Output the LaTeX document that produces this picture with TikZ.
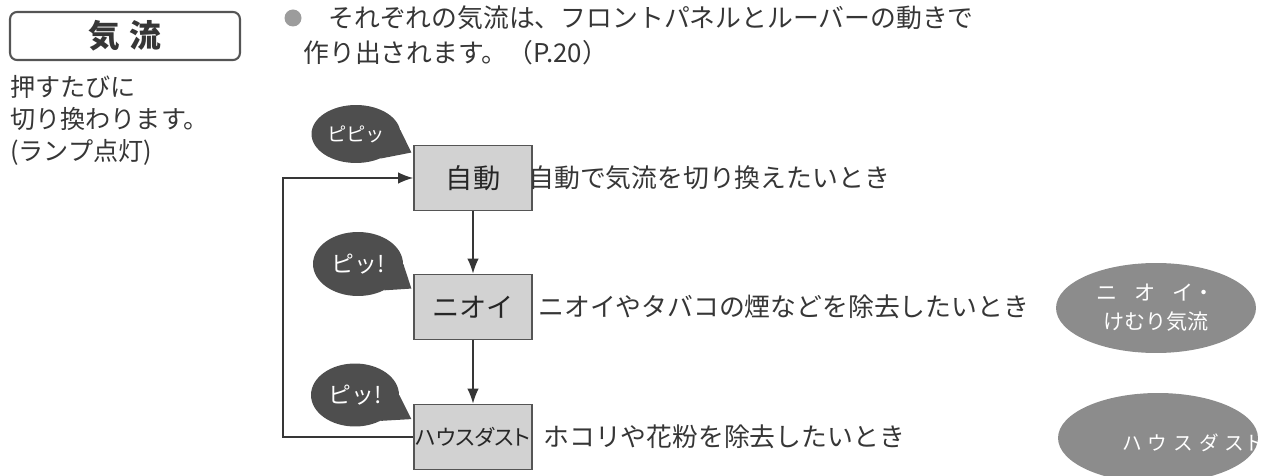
\documentclass[tikz,border=0pt]{standalone}
\usepackage{fontspec}
\setmainfont{Noto Sans CJK JP}
\newfontfamily\palt{Noto Sans CJK JP}[RawFeature=+palt]
\usetikzlibrary{arrows.meta}
\usetikzlibrary{positioning}
\usetikzlibrary{shapes}

\definecolor{txtgray}{HTML}{363636}
\definecolor{boxfill}{HTML}{D2D2D2}
\definecolor{boxline}{HTML}{555555}
\definecolor{beepgray}{HTML}{4E4E4E}
\definecolor{ovalgray}{HTML}{8C8C8C}
\definecolor{dotgray}{HTML}{9C9C9C}

\tikzset{
    titlebox/.style={draw=boxline, line width=1.2pt, rounded corners=4pt, minimum width=4.6cm, minimum height=0.96cm, inner sep=0pt, text=txtgray, font=\fontsize{18}{18}\selectfont\bfseries},
    modebox/.style={draw=boxline, fill=boxfill, line width=1pt, minimum width=2.36cm, minimum height=1.3cm, inner sep=0pt, text=black!85, font=\fontsize{15.5}{15.5}\selectfont},
    desc/.style={anchor=west, inner sep=0pt, text=txtgray, font=\fontsize{14.7}{14.7}\selectfont},
    flowline/.style={draw=txtgray, line width=0.8pt},
    beep/.style={ellipse, fill=beepgray, inner sep=0pt, text=white},
    oval/.style={ellipse, fill=ovalgray, inner sep=0pt, minimum width=4.0cm, minimum height=1.8cm, text=white, font=\fontsize{12}{16.5}\selectfont}
}

\begin{document}
\begin{tikzpicture}[x=0.02cm, y=-0.02cm, >={Latex[length=8.5pt, width=6.5pt]}]

    \clip (0,0) rectangle (1268,476);

    % Draw button and note
    \node [titlebox] (title) at (125,36) {気\hspace{0.3em}流};
    \node [desc, align=left, font=\fontsize{14.3}{18.2}\selectfont] (press) at (10,120) {押すたびに\\切り換わります。\\(ランプ点灯)};

    % Draw header
    \fill [dotgray] (293,18) circle [radius=8.5];
    \node [desc] (head1) at (328,18) {それぞれの気流は、フロントパネルとルーバーの動きで};
    \node [desc] (head2) at (303,53) {作り出されます。（P.20）};

    % Draw mode boxes
    \node [modebox] (auto) at (473,178) {自動};
    \node [modebox] (nioi) at (473,307) {ニオイ};
    \node [modebox, font=\fontsize{12.3}{12.3}\palt] (dust) at (473,437) {ハウスダスト};

    % Draw descriptions
    \node [desc] (autotxt) at (528,178) {自動で気流を切り換えたいとき};
    \node [desc] (nioitxt) at (538,307) {ニオイやタバコの煙などを除去したいとき};
    \node [desc] (dusttxt) at (543,437) {ホコリや花粉を除去したいとき};

    % Draw arrows
    \coordinate (back) at (283,437);
    \draw [->, flowline] (auto) -- (nioi);
    \draw [->, flowline] (nioi) -- (dust);
    \draw [->, flowline] (dust.west) -- (back) |- (auto.west);

    % Draw beeps
    \node [beep, minimum width=1.78cm, minimum height=1.16cm, font=\fontsize{11}{11}\selectfont] (beep1) at (356,134) {ピピッ};
    \node [beep, minimum width=1.80cm, minimum height=1.28cm, font=\fontsize{13}{13}\selectfont] (beep2) at (358,264) {ピッ!};
    \node [beep, minimum width=1.76cm, minimum height=1.26cm, font=\fontsize{13}{13}\selectfont] (beep3) at (355,395) {ピッ!};
    \fill [beepgray] (beep1.5) -- ([shift={(-1pt,-4.5pt)}]auto.north west) -- (beep1.-45) -- cycle;
    \fill [beepgray] (beep2.0) -- ([shift={(-1pt,-8.5pt)}]nioi.north west) -- (beep2.-45) -- cycle;
    \fill [beepgray] (beep3.0) -- ([shift={(-1pt,-8.8pt)}]dust.north west) -- (beep3.-45) -- cycle;

    % Draw airflow marks
    \node [oval, align=center] (nioioval) at (1156,308) {ニ\hspace{0.8em}オ\hspace{0.8em}イ・\\けむり気流};
    \node [oval] (dustoval) at (1158,438) {};
    \node [anchor=west, inner sep=0pt, text=white, font=\fontsize{11.2}{11.2}\selectfont] (dustovaltxt) at (1122,443) {ハ\hspace{0.3em}ウ\hspace{0.3em}ス\hspace{0.3em}ダ\hspace{0.3em}スト};

\end{tikzpicture}
\end{document}
